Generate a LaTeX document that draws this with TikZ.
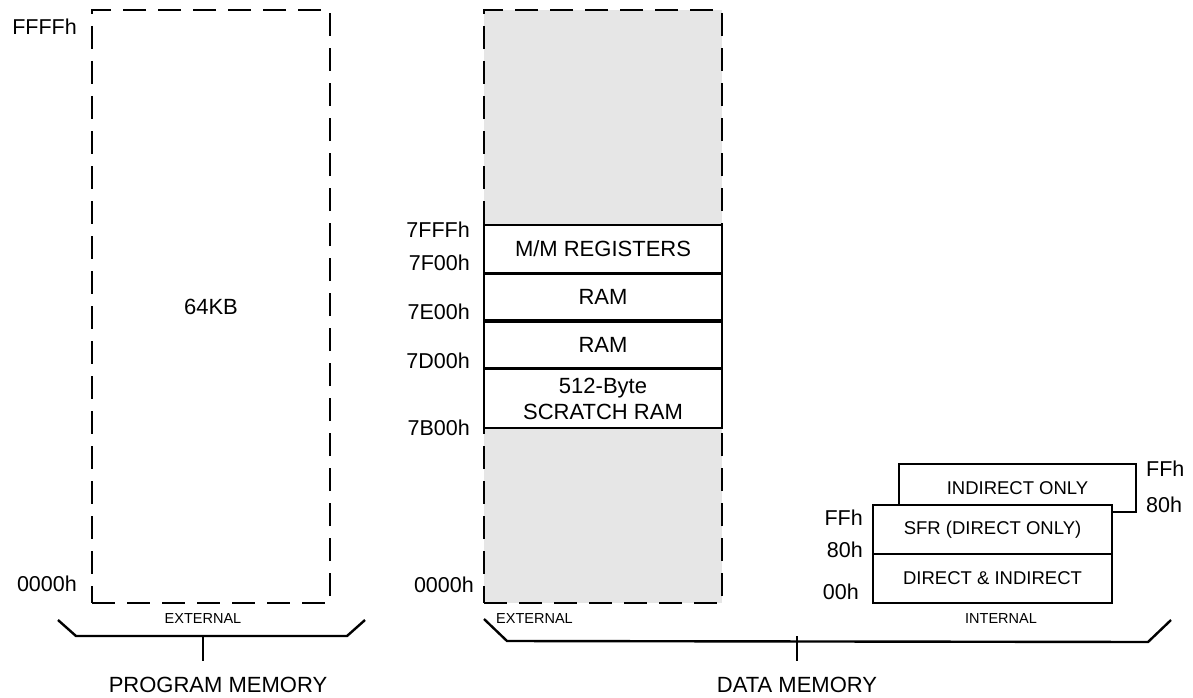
\documentclass[tikz,border=0pt]{standalone}
\usepackage{fontspec}
\setmainfont{Liberation Sans}
\usetikzlibrary{positioning}
\definecolor{extgray}{HTML}{E6E6E6}
\newcommand\memfont{\fontsize{22}{26}\selectfont}
\tikzset{
  ext box/.style={draw,dash pattern=on 23pt off 12pt,line width=2.2pt,
    minimum width=238pt,minimum height=593pt,inner sep=0pt,font=\memfont},
  blk/.style={draw,fill=white,line width=2pt,minimum width=238pt,
    inner sep=0pt,align=center,font=\memfont},
  iblk/.style={blk,minimum width=239pt,font=\fontsize{18.5}{22}\selectfont},
  addr/.style={inner sep=0pt,font=\fontsize{21.5}{24}\selectfont},
  tag/.style={inner sep=0pt,font=\fontsize{14.5}{17}\selectfont},
  title/.style={inner sep=0pt,font=\memfont},
  brace/.style={line width=2.4pt}
}

\begin{document}
\begin{tikzpicture}[x=1pt,y=-1pt]
  \useasboundingbox (0,0) rectangle (1193,698);
  % program memory
  \node[ext box] (prog) at (211,306.5) {64KB};
  \node[addr,anchor=east] (pfff) at (77,27) {FFFFh};
  \node[addr,anchor=east] (p000) at (77,584) {0000h};
  \node[tag] (pext) at (203,619) {EXTERNAL};
  % external data memory
  \node[ext box,fill=extgray] (xdata) at (603,306.5) {};
  \node[blk,minimum height=48pt] (mmreg) at (603,249) {M/M REGISTERS};
  \node[blk,minimum height=46pt] (ram1) at (603,297) {RAM};
  \node[blk,minimum height=46pt] (ram2) at (603,345) {RAM};
  \node[blk,minimum height=59pt] (scratch) at (603,398.5) {512-Byte\\SCRATCH RAM};
  \node[addr,anchor=east] (a7fff) at (470,230) {7FFFh};
  \node[addr,anchor=east] (a7f00) at (470,263) {7F00h};
  \node[addr,anchor=east] (a7e00) at (470,312) {7E00h};
  \node[addr,anchor=east] (a7d00) at (470,361) {7D00h};
  \node[addr,anchor=east] (a7b00) at (470,428) {7B00h};
  \node[addr,anchor=east] (a0000) at (474,585) {0000h};
  \node[tag,anchor=west] (dext) at (496,619) {EXTERNAL};
  % internal data memory
  \node[iblk,minimum width=237pt,minimum height=48pt] (indir) at (1017.5,488) {INDIRECT ONLY};
  \node[iblk,minimum height=49pt] (sfr) at (992.5,529.5) {SFR (DIRECT ONLY)};
  \node[iblk,minimum height=49pt] (dirind) at (992.5,578.5) {DIRECT \& INDIRECT};
  \node[addr,anchor=west] (iffr) at (1146,469) {FFh};
  \node[addr,anchor=west] (i80r) at (1146,505) {80h};
  \node[addr,anchor=east] (iffl) at (863,518) {FFh};
  \node[addr,anchor=east] (i80l) at (863,550) {80h};
  \node[addr,anchor=east] (i00l) at (859,592) {00h};
  \node[tag] (dint) at (1001,619) {INTERNAL};
  % braces
  \node[title] (progtitle) at (218,685) {PROGRAM MEMORY};
  \node[title] (datatitle) at (797,685) {DATA MEMORY};
  \coordinate (pstem) at (203,636);
  \coordinate (dstem) at (797,636);
  \draw[brace] (58,620) -- (76,636) -- (347,636) -- (365,620);
  \draw[brace] (484,619) -- (507,641) -- (1148,642) -- (1171,620);
  \draw[brace,shorten >=16pt] (pstem) -- (pstem |- progtitle.north);
  \draw[brace,shorten >=16pt] (dstem) -- (datatitle.north);
\end{tikzpicture}
\end{document}
